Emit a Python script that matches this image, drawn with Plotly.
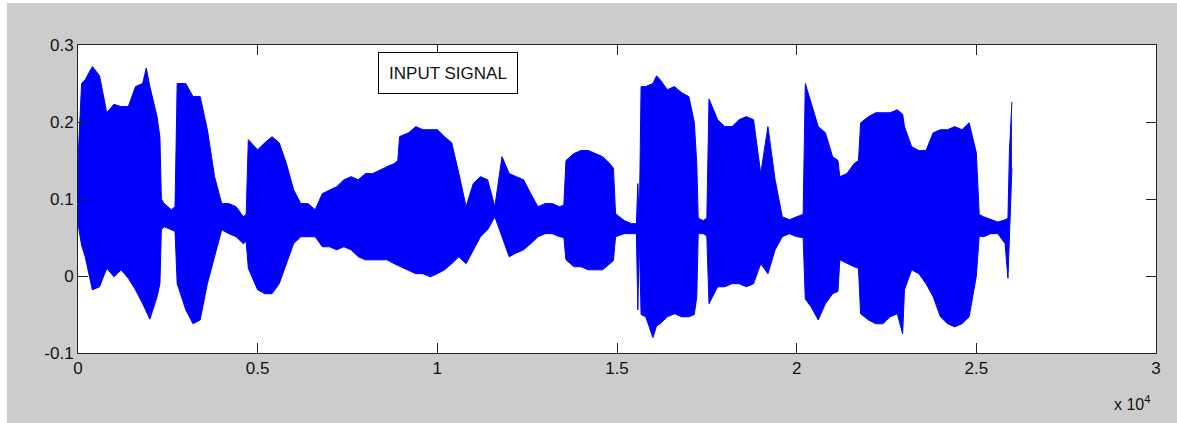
import plotly.graph_objects as go

sample_idx = [
    0, 100, 200, 400, 600, 800, 1000, 1200, 1400, 1600,
    1800, 1900, 2000, 2200, 2280, 2320, 2400, 2600, 2700, 2760,
    3000, 3200, 3400, 3600, 3800, 4000, 4200, 4400, 4600, 4680,
    4740, 5000, 5200, 5400, 5600, 5800, 6000, 6200, 6400, 6600,
    6800, 7000, 7200, 7400, 7600, 7800, 8000, 8200, 8400, 8600,
    8800, 8900, 8950, 9200, 9400, 9600, 9800, 10000, 10200, 10400,
    10600, 10800, 11000, 11200, 11400, 11600, 11800, 12000, 12200, 12400,
    12600, 12800, 13000, 13200, 13400, 13520, 13580, 13800, 14000, 14200,
    14400, 14600, 14800, 14900, 14960, 15200, 15400, 15540, 15580, 15620,
    15670, 15800, 16000, 16100, 16200, 16400, 16600, 16800, 17000, 17150,
    17220, 17260, 17400, 17500, 17560, 17800, 18000, 18200, 18400, 18600,
    18800, 19000, 19200, 19400, 19600, 19800, 20000, 20180, 20240, 20400,
    20600, 20800, 21000, 21150, 21200, 21400, 21600, 21720, 21780, 22000,
    22200, 22400, 22600, 22800, 22950, 23000, 23200, 23400, 23600, 23800,
    24000, 24200, 24400, 24600, 24800, 25000, 25080, 25200, 25400, 25600,
    25800, 25880, 25920, 25990,
]

# upper envelope (maximum of the waveform) at those positions
env_upper = [
    0.150, 0.250, 0.255, 0.272, 0.260, 0.212, 0.223, 0.220, 0.220, 0.246,
    0.250, 0.270, 0.246, 0.207, 0.180, 0.100, 0.094, 0.086, 0.090, 0.250,
    0.250, 0.233, 0.233, 0.190, 0.129, 0.094, 0.094, 0.090, 0.077, 0.080,
    0.177, 0.164, 0.173, 0.181, 0.173, 0.146, 0.112, 0.094, 0.094, 0.086,
    0.107, 0.112, 0.116, 0.125, 0.129, 0.125, 0.133, 0.133, 0.138, 0.142,
    0.146, 0.150, 0.181, 0.186, 0.194, 0.190, 0.190, 0.190, 0.181, 0.173,
    0.133, 0.090, 0.120, 0.129, 0.125, 0.090, 0.155, 0.133, 0.129, 0.125,
    0.107, 0.090, 0.094, 0.094, 0.090, 0.092, 0.150, 0.159, 0.163, 0.163,
    0.159, 0.155, 0.146, 0.140, 0.081, 0.072, 0.068, 0.068, 0.120, 0.070,
    0.246, 0.246, 0.250, 0.260, 0.255, 0.242, 0.246, 0.238, 0.233, 0.200,
    0.146, 0.075, 0.072, 0.075, 0.230, 0.203, 0.194, 0.194, 0.203, 0.207,
    0.203, 0.133, 0.194, 0.125, 0.077, 0.073, 0.077, 0.080, 0.250, 0.225,
    0.194, 0.186, 0.155, 0.150, 0.129, 0.133, 0.146, 0.150, 0.199, 0.207,
    0.212, 0.212, 0.212, 0.216, 0.210, 0.194, 0.168, 0.163, 0.163, 0.186,
    0.190, 0.190, 0.194, 0.190, 0.199, 0.160, 0.080, 0.077, 0.073, 0.070,
    0.073, 0.075, 0.160, 0.226,
]

# lower envelope (minimum of the waveform) at those positions
env_lower = [
    0.068, 0.040, 0.025, -0.018, -0.014, 0.010, -0.001, 0.008, -0.003, -0.018,
    -0.036, -0.045, -0.056, -0.027, -0.010, 0.060, 0.064, 0.060, 0.058, -0.010,
    -0.044, -0.062, -0.057, -0.010, 0.025, 0.060, 0.055, 0.051, 0.042, 0.045,
    0.010, -0.018, -0.023, -0.023, -0.010, 0.016, 0.042, 0.051, 0.051, 0.051,
    0.038, 0.038, 0.034, 0.038, 0.034, 0.025, 0.021, 0.021, 0.021, 0.021,
    0.016, 0.014, 0.012, 0.008, 0.003, 0.003, -0.001, 0.003, 0.008, 0.016,
    0.025, 0.016, 0.034, 0.051, 0.060, 0.077, 0.051, 0.025, 0.030, 0.034,
    0.042, 0.051, 0.055, 0.055, 0.051, 0.050, 0.021, 0.012, 0.012, 0.008,
    0.008, 0.008, 0.016, 0.020, 0.051, 0.055, 0.055, 0.055, -0.044, 0.050,
    -0.050, -0.053, -0.080, -0.065, -0.062, -0.053, -0.049, -0.053, -0.053, -0.050,
    -0.027, 0.055, 0.055, 0.052, -0.036, -0.014, -0.014, -0.010, -0.010, -0.014,
    -0.010, 0.016, 0.003, 0.034, 0.051, 0.055, 0.051, 0.050, -0.030, -0.040,
    -0.057, -0.036, -0.023, -0.020, 0.021, 0.016, 0.012, 0.010, -0.049, -0.057,
    -0.062, -0.062, -0.053, -0.049, -0.075, -0.018, 0.008, 0.003, -0.010, -0.027,
    -0.053, -0.062, -0.066, -0.062, -0.053, 0.000, 0.052, 0.051, 0.055, 0.055,
    0.042, -0.003, 0.050, 0.140,
]

x_tickvals = [0, 5000, 10000, 15000, 20000, 25000, 30000]
x_ticktext = ["0", "0.5", "1", "1.5", "2", "2.5", "3"]
y_tickvals = [-0.1, 0, 0.1, 0.2, 0.3]
y_ticktext = ["-0.1", "0", "0.1", "0.2", "0.3"]

BLUE = "#0000ff"
FONT = "Liberation Sans, Arial, sans-serif"

fig = go.Figure()
fig.add_trace(go.Scatter(x=sample_idx, y=env_lower, mode="lines",
                         line=dict(color=BLUE, width=1), showlegend=False,
                         hoverinfo="skip"))
fig.add_trace(go.Scatter(x=sample_idx, y=env_upper, mode="lines",
                         line=dict(color=BLUE, width=1), fill="tonexty",
                         fillcolor=BLUE, showlegend=False, hoverinfo="skip"))

axis_common = dict(showline=True, linecolor="#222222", linewidth=1, mirror="ticks",
                   ticks="inside", ticklen=10, tickcolor="#222222", showgrid=False,
                   zeroline=False, tickfont=dict(family=FONT, size=17, color="#111111"))

fig.update_xaxes(range=[0, 30000], tickvals=x_tickvals, ticktext=x_ticktext, **axis_common)
fig.update_yaxes(range=[-0.1, 0.3], tickvals=y_tickvals, ticktext=y_ticktext, **axis_common)

fig.update_layout(
    width=1177, height=423,
    margin=dict(l=78, r=21, t=45, b=70),
    paper_bgcolor="#cccccc", plot_bgcolor="#ffffff",
    annotations=[
        dict(text="INPUT SIGNAL", x=0.3432, y=0.909, xref="paper", yref="paper",
             xanchor="center", yanchor="middle", showarrow=False,
             font=dict(family=FONT, size=17, color="#111111"),
             bgcolor="#ffffff", bordercolor="#000000", borderwidth=1,
             borderpad=0, width=138, height=40),
        dict(text="x 10<sup>4</sup>", x=0.9777, y=-0.162, xref="paper", yref="paper",
             xanchor="center", yanchor="middle", showarrow=False,
             font=dict(family=FONT, size=16, color="#111111")),
    ],
    shapes=[
        dict(type="rect", xref="paper", yref="paper", x0=(0 - 78) / 1078, x1=(7 - 78) / 1078,
             y0=-(423 - 353) / 308, y1=353 / 308, fillcolor="#ffffff",
             line=dict(width=0), layer="above"),
        dict(type="rect", xref="paper", yref="paper", x0=(0 - 78) / 1078, x1=(1177 - 78) / 1078,
             y0=(353 - 3) / 308, y1=353 / 308, fillcolor="#ffffff",
             line=dict(width=0), layer="above"),
    ],
)

fig.write_html("out.html")
